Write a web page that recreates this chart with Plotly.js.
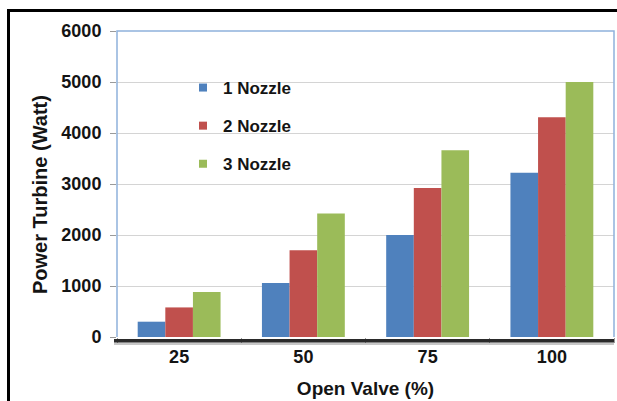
<!DOCTYPE html>
<html>
<head>
<meta charset="utf-8">
<script src="https://cdn.plot.ly/plotly-3.0.1.min.js"></script>
<style>
  html, body { margin: 0; padding: 0; background: #fff; }
  #chart { width: 617px; height: 401px; }
</style>
</head>
<body>
<div id="chart"></div>
<script>
// ---- data ----
var categories = ['25', '50', '75', '100'];
var seriesNames = ['1 Nozzle', '2 Nozzle', '3 Nozzle'];
var nozzle1 = [300, 1060, 2000, 3220];
var nozzle2 = [580, 1700, 2920, 4310];
var nozzle3 = [880, 2420, 3660, 5000];
var yTickValues = [0, 1000, 2000, 3000, 4000, 5000, 6000];
var xTitle = 'Open Valve (%)';
var yTitle = 'Power Turbine (Watt)';

// ---- styling ----
var colors = ['#4f81bd', '#c0504d', '#9bbb59'];
var FONT = 'Liberation Sans, Arial, Helvetica, sans-serif';
var TXT = '#141414';
var W = 617, H = 401;
var M = {l: 117, r: 3, t: 31, b: 64};
var PW = W - M.l - M.r, PH = H - M.t - M.b;
function px(x) { return (x - M.l) / PW; }
function py(y) { return (H - M.b - y) / PH; }

var values = [nozzle1, nozzle2, nozzle3];
var traces = [];
values.forEach(function (v, i) {
  traces.push({
    type: 'bar',
    x: categories,
    y: v,
    name: seriesNames[i],
    marker: {color: colors[i], line: {width: 0}},
    showlegend: false,
    hoverinfo: 'x+y+name'
  });
});
// legend entries with small square markers
values.forEach(function (v, i) {
  traces.push({
    type: 'scatter',
    mode: 'markers',
    x: [null],
    y: [null],
    name: seriesNames[i],
    legendgroup: 'g' + i,
    marker: {color: colors[i], symbol: 'square', size: 8},
    showlegend: true,
    hoverinfo: 'skip'
  });
});

var shapes = [
  // blue plot frame (left, top, right)
  {type: 'path', xref: 'paper', yref: 'paper',
   path: 'M0,0 L0,1 L1,1 L1,0', line: {color: '#8eb1dc', width: 1.5}, layer: 'above'},
  // thick x axis line with soft shadow
  {type: 'rect', xref: 'paper', yref: 'paper',
   x0: px(114), x1: 1, y0: py(345), y1: py(342.5),
   fillcolor: 'rgba(0,0,0,0.22)', line: {width: 0}, layer: 'above'},
  {type: 'rect', xref: 'paper', yref: 'paper',
   x0: px(114), x1: 1, y0: py(342.5), y1: py(339),
   fillcolor: '#2a2a2a', line: {width: 0}, layer: 'above'},
  // outer black frame (left and top)
  {type: 'line', xref: 'paper', yref: 'paper',
   x0: px(8.5), x1: px(617), y0: py(10.5), y1: py(10.5),
   line: {color: '#000', width: 3}},
  {type: 'line', xref: 'paper', yref: 'paper',
   x0: px(8.5), x1: px(8.5), y0: py(9), y1: py(401),
   line: {color: '#000', width: 3}}
];

var layout = {
  width: W, height: H,
  margin: M,
  paper_bgcolor: '#ffffff',
  plot_bgcolor: '#ffffff',
  font: {family: FONT, color: TXT, size: 18},
  barmode: 'group',
  bargap: 0.333,
  bargroupgap: 0,
  showlegend: true,
  legend: {
    x: px(183), y: py(70), xanchor: 'left', yanchor: 'top',
    bgcolor: 'rgba(0,0,0,0)',
    traceorder: 'grouped',
    tracegroupgap: 13,
    font: {family: FONT, size: 17, color: TXT, weight: 'bold'}
  },
  xaxis: {
    type: 'category',
    categoryorder: 'array',
    categoryarray: categories,
    showgrid: false,
    zeroline: false,
    showline: false,
    ticks: 'outside',
    tickson: 'boundaries',
    ticklen: 5,
    tickcolor: '#9a9a9a',
    tickfont: {family: FONT, size: 18, color: TXT, weight: 'bold'},
    ticklabelstandoff: 7,
    automargin: false,
    title: {text: xTitle, standoff: 15,
            font: {family: FONT, size: 19, color: TXT, weight: 'bold'}}
  },
  yaxis: {
    range: [0, 6000],
    tickvals: yTickValues,
    ticktext: yTickValues.map(String),
    showgrid: true,
    gridcolor: '#d4d4d4',
    gridwidth: 1,
    zeroline: false,
    showline: false,
    ticks: 'outside',
    ticklen: 6,
    tickcolor: '#9a9a9a',
    tickfont: {family: FONT, size: 18, color: TXT, weight: 'bold'},
    ticklabelstandoff: 5,
    automargin: false
  },
  annotations: [{
    text: yTitle, textangle: -90,
    xref: 'paper', yref: 'paper',
    x: px(40), y: py(195), xanchor: 'center', yanchor: 'middle',
    showarrow: false,
    font: {family: FONT, size: 20, color: TXT, weight: 'bold'}
  }],
  shapes: shapes
};

Plotly.newPlot('chart', traces, layout, {displayModeBar: false, staticPlot: true});
</script>
</body>
</html>
